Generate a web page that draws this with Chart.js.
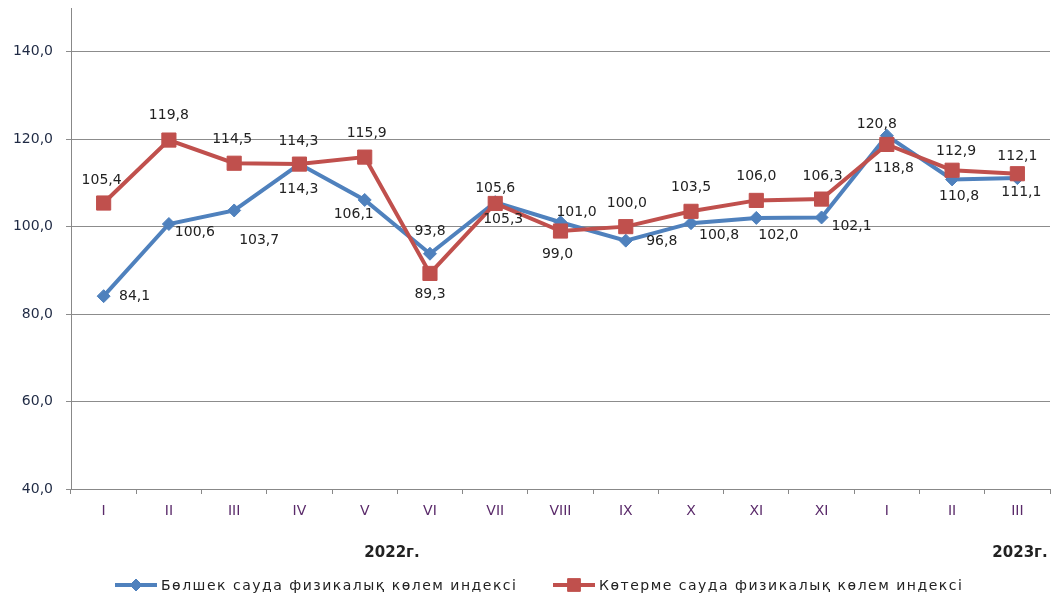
<!DOCTYPE html>
<html>
<head>
<meta charset="utf-8">
<script src="https://cdn.jsdelivr.net/npm/chart.js@4/dist/chart.umd.min.js"></script>
<style>
  html, body { margin: 0; padding: 0; background: #fff; overflow: hidden; }
  #wrap { width: 1051px; height: 599px; position: relative; }
</style>
</head>
<body>
<div id="wrap"><canvas id="chart"></canvas></div>
<script>
const months = ['I', 'II', 'III', 'IV', 'V', 'VI', 'VII', 'VIII', 'IX', 'X', 'XI', 'XI', 'I', 'II', 'III'];
const retail = [84.1, 100.6, 103.7, 114.3, 106.1, 93.8, 105.6, 101.0, 96.8, 100.8, 102.0, 102.1, 120.8, 110.8, 111.1];
const wholesale = [105.4, 119.8, 114.5, 114.3, 115.9, 89.3, 105.3, 99.0, 100.0, 103.5, 106.0, 106.3, 118.8, 112.9, 112.1];
const seriesNames = ['Бөлшек сауда физикалық көлем индексі', 'Көтерме сауда физикалық көлем индексі'];
const yearLabels = ['2022г.', '2023г.'];

// label offsets from the point, px
const retailOffsets = [[31, 0], [26, 8], [25, 30], [-1, 25], [-11, 14], [0, -22], [0, -14], [16, -10], [36, 1], [28, 12], [22, 17], [30, 9], [-10, -11], [7, 17], [4, 14]];
const wholesaleOffsets = [[-2, -23], [0, -25], [-2, -24], [-1, -23], [2, -24], [0, 21], [8, 16], [-3, 23], [1, -23], [0, -24], [0, -24], [1, -23], [7, 24], [4, -19], [0, -17]];

const BLUE = '#4f81bd';
const RED = '#c0504d';
const FONT = '"DejaVu Sans", Verdana, sans-serif';
const fmt = (v) => v.toFixed(1).replace('.', ',');

const labelPlugin = {
    id: 'pointLabels',
    afterDatasetsDraw(chart) {
        const ctx = chart.ctx;
        const offsets = [retailOffsets, wholesaleOffsets];
        ctx.save();
        ctx.font = '14px ' + FONT;
        ctx.fillStyle = '#222';
        ctx.textAlign = 'center';
        ctx.textBaseline = 'middle';
        chart.data.datasets.forEach((ds, i) => {
            const meta = chart.getDatasetMeta(i);
            meta.data.forEach((pt, j) => {
                const [dx, dy] = offsets[i][j];
                ctx.fillText(fmt(ds.data[j]), pt.x + dx, pt.y + dy);
            });
        });
        ctx.restore();
    },
};

const footerPlugin = {
    id: 'footer',
    afterDraw(chart) {
        const ctx = chart.ctx;
        ctx.save();
        ctx.font = 'bold 15px ' + FONT;
        ctx.fillStyle = '#222';
        ctx.textAlign = 'center';
        ctx.textBaseline = 'middle';
        ctx.fillText(yearLabels[0], 392, 553);
        ctx.fillText(yearLabels[1], 1020, 553);

        // legend
        const items = [
            { x0: 115, color: BLUE, style: 'rectRot', r: 6, text: seriesNames[0] },
            { x0: 553, color: RED, style: 'rect', r: 9, text: seriesNames[1] },
        ];
        const y = 585;
        ctx.font = '14px ' + FONT;
        ctx.textAlign = 'left';
        items.forEach((it) => {
            ctx.strokeStyle = it.color;
            ctx.lineWidth = 4;
            ctx.beginPath();
            ctx.moveTo(it.x0, y);
            ctx.lineTo(it.x0 + 42, y);
            ctx.stroke();
            ctx.fillStyle = it.color;
            ctx.lineWidth = 1;
            Chart.helpers.drawPoint(ctx, { pointStyle: it.style, radius: it.r, borderWidth: 1 }, it.x0 + 21, y);
            ctx.fillStyle = '#222';
            ctx.letterSpacing = '1.5px';
            ctx.fillText(it.text, it.x0 + 46, y + 1);
            ctx.letterSpacing = '0px';
        });
        ctx.restore();
    },
};

new Chart(document.getElementById('chart'), {
    type: 'line',
    plugins: [labelPlugin, footerPlugin],
    data: {
        labels: months,
        datasets: [
            {
                label: seriesNames[0],
                data: retail,
                borderColor: BLUE,
                backgroundColor: BLUE,
                borderWidth: 4,
                pointStyle: 'rectRot',
                pointRadius: 6.5,
                pointBorderWidth: 1,
                tension: 0,
                order: 1,
            },
            {
                label: seriesNames[1],
                data: wholesale,
                borderColor: RED,
                backgroundColor: RED,
                borderWidth: 4,
                pointStyle: 'rect',
                pointRadius: 10,
                pointBorderWidth: 1,
                tension: 0,
                order: 0,
            },
        ],
    },
    options: {
        responsive: true,
        maintainAspectRatio: false,
        animation: false,
        layout: { autoPadding: false, padding: { top: 8, right: 1, left: 0, bottom: 0 } },
        plugins: {
            legend: { display: false },
            tooltip: { enabled: false },
        },
        scales: {
            x: {
                offset: true,
                grid: { display: true, drawOnChartArea: false, offset: true, tickLength: 5, color: '#888', lineWidth: 1 },
                border: { color: '#888', width: 1 },
                ticks: { color: '#5a2a6a', font: { family: FONT, size: 14 }, padding: 9, autoSkip: false, maxRotation: 0 },
                afterFit: (s) => {
                    s.height = 110;
                    s.paddingLeft = 0;
                    s.paddingRight = 0;
                },
            },
            y: {
                min: 40,
                max: 150,
                grid: { color: '#8c8c8c', lineWidth: 1, tickLength: 5 },
                border: { color: '#888', width: 1 },
                ticks: {
                    stepSize: 20,
                    color: '#1f2a44',
                    font: { family: FONT, size: 14 },
                    padding: 13,
                    callback: (v) => fmt(v),
                },
                afterBuildTicks: (axis) => { axis.ticks = axis.ticks.filter((t) => t.value <= 140); },
                afterFit: (s) => {
                    s.width = 71;
                    s.paddingTop = 0;
                    s.paddingBottom = 0;
                },
            },
        },
    },
});
</script>
</body>
</html>
